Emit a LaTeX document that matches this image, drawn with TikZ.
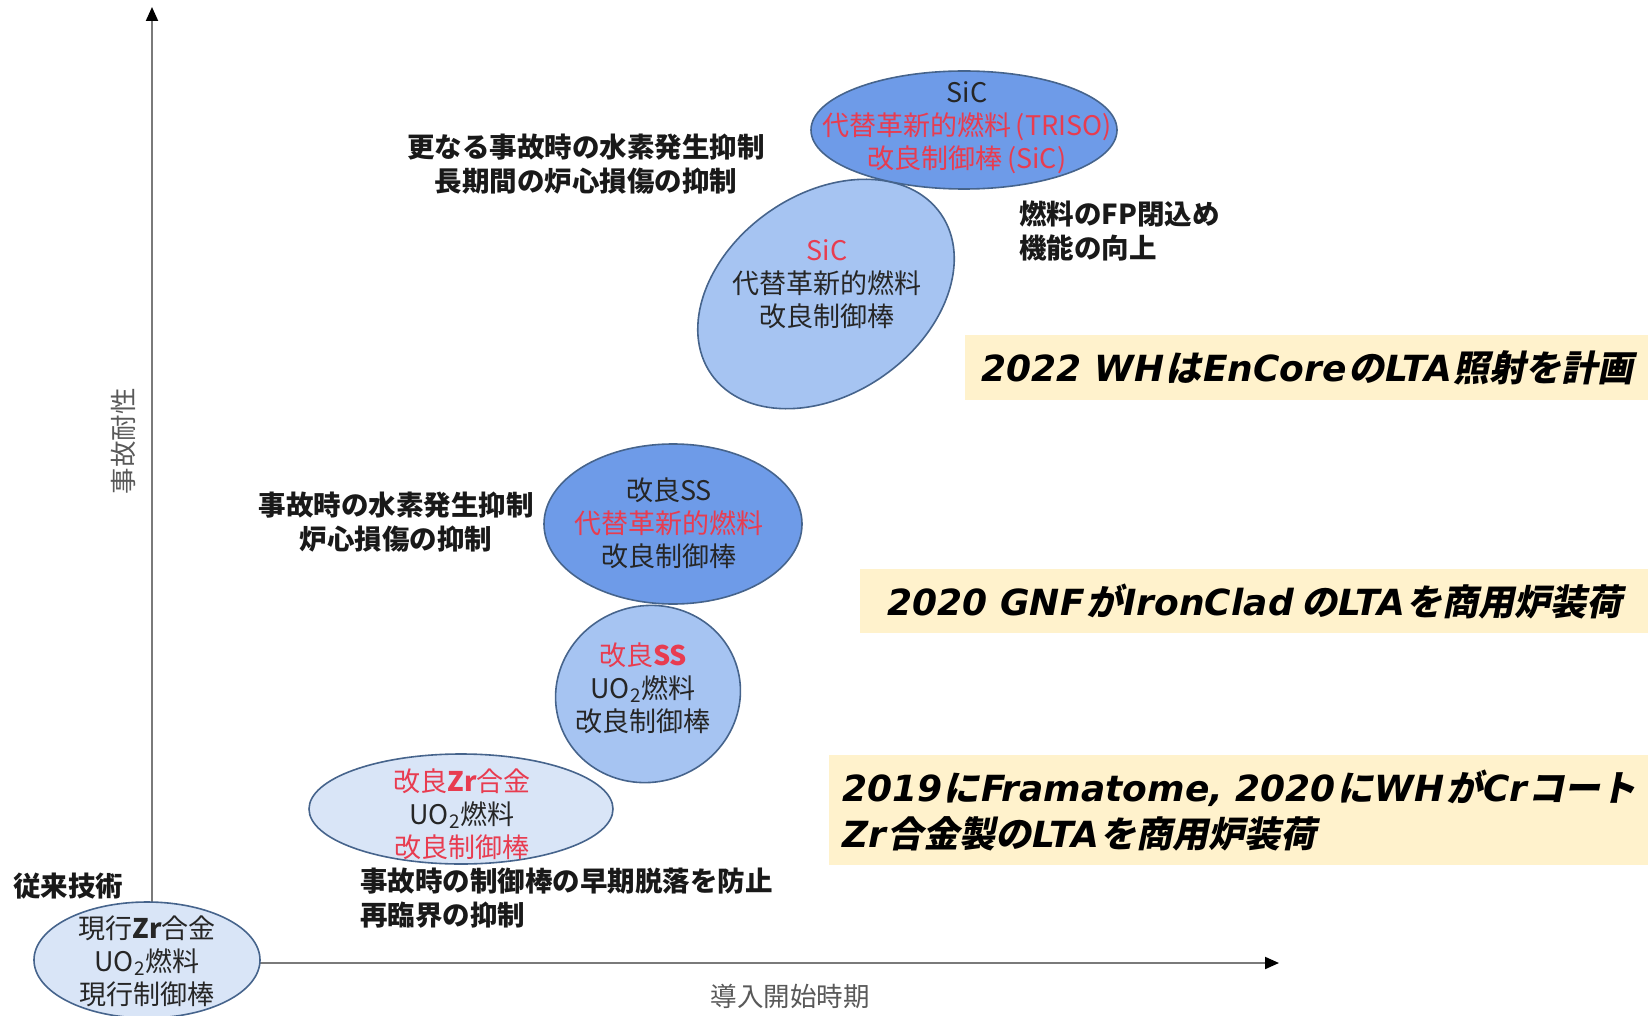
\documentclass[tikz,border=0pt]{standalone}
\usepackage{fontspec}
\setmainfont{Noto Sans CJK JP}
\newfontfamily\jpsl{Noto Sans CJK JP}[FakeSlant=0.2]
\newfontfamily\lat{DejaVu Sans}
\usetikzlibrary{shapes.geometric,arrows.meta}

\definecolor{elLight}{HTML}{D9E5F7}
\definecolor{elMid}{HTML}{A6C4F2}
\definecolor{elDark}{HTML}{6E9BE8}
\definecolor{elEdge}{HTML}{46648C}
\definecolor{redTxt}{HTML}{E83C50}
\definecolor{darkTxt}{HTML}{262626}
\definecolor{axisGrey}{HTML}{595959}
\definecolor{boxYellow}{HTML}{FFF2CC}

% Latin runs inside the slanted bold news boxes, with a hair of space
% so the slanted kana next to them do not collide
\newcommand\boxlat[1]{\kern0.7pt{\lat\bfseries\itshape #1}\kern0.7pt}

\begin{document}
\begin{tikzpicture}[x=0.5pt,y=-0.5pt,
  blob/.style={ellipse, draw=elEdge, line width=0.8pt, inner sep=0pt},
  eltext/.style={align=center, text=darkTxt, inner sep=0pt,
    font=\fontsize{13.5}{16.5}\selectfont},
  note/.style={text=black!90, inner sep=0pt,
    font=\bfseries\fontsize{13.75}{16.75}\selectfont},
  axislabel/.style={text=axisGrey, inner sep=0pt,
    font=\fontsize{13.25}{16}\selectfont},
  newsbox/.style={fill=boxYellow, inner sep=0pt, anchor=north west,
    text=black, font=\jpsl\bfseries\fontsize{18}{23}\selectfont},
  axis/.style={draw=axisGrey!80, line width=1pt,
    -{Triangle[length=7pt,width=6pt,black]}}
]
\useasboundingbox (0,0) rectangle (1648,1016);

% axes
\coordinate (O) at (152,963);
\coordinate (ytop) at (152,7);
\coordinate (xend) at (1279,963);
\draw[axis] (O) -- (ytop);
\draw[axis] (O) -- (xend);
\node[axislabel, rotate=90] (ylab) at (123,441) {事故耐性};
\node[axislabel] (xlab) at (790,996) {導入開始時期};

% technology ellipses
\node[blob, fill=elLight, minimum width=113pt, minimum height=58pt] (e1) at (147,960) {};
\node[blob, fill=elLight, minimum width=152pt, minimum height=55pt] (e2) at (461,809) {};
\node[blob, fill=elMid, rotate=20, minimum width=93pt, minimum height=88pt] (e3) at (648,694) {};
\node[blob, fill=elDark, minimum width=129pt, minimum height=80pt] (e4) at (673,524) {};
\node[blob, fill=elMid, rotate=35, minimum width=140pt, minimum height=100pt] (e5) at (826,294) {};
\node[blob, fill=elDark, minimum width=153pt, minimum height=59pt] (e6) at (964,130) {};

\node[eltext] (t1) at (147,961) {現行{\bfseries Zr}合金\\UO\textsubscript{2}燃料\\現行制御棒};
\node[eltext] (t2) at (462,814) {\textcolor{redTxt}{改良{\bfseries Zr}合金}\\UO\textsubscript{2}燃料\\\textcolor{redTxt}{改良制御棒}};
\node[eltext] (t3) at (643,688) {\textcolor{redTxt}{改良{\bfseries SS}}\\UO\textsubscript{2}燃料\\改良制御棒};
\node[eltext] (t4) at (669,523) {改良SS\\\textcolor{redTxt}{代替革新的燃料}\\改良制御棒};
\node[eltext] (t5) at (827,284) {\textcolor{redTxt}{SiC}\\代替革新的燃料\\改良制御棒};
\node[eltext] (t6) at (967,128) {SiC\\\textcolor{redTxt}{代替革新的燃料\,(TRISO)}\\\textcolor{redTxt}{改良制御棒\,(SiC)}};

% effect notes
\node[note, align=center] (n1) at (586,164) {更なる事故時の水素発生抑制\\長期間の炉心損傷の抑制};
\node[note, align=left, anchor=west] (n2) at (1019,231) {燃料のFP閉込め\\機能の向上};
\node[note, align=center] (n3) at (396,522) {事故時の水素発生抑制\\炉心損傷の抑制};
\node[note, align=left, anchor=west] (n4) at (360,898) {事故時の制御棒の早期脱落を防止\\再臨界の抑制};
\node[note, anchor=west] (n5) at (13,886) {従来技術};

% milestone boxes
\node[newsbox, minimum width=341.5pt, minimum height=32.5pt] (b1) at (965,335)
  {\boxlat{2022 WH}は\boxlat{EnCore}の\boxlat{LTA}照射を計画};
\node[newsbox, minimum width=394pt, minimum height=32pt] (b2) at (860,569)
  {\boxlat{2020 GNF}が\boxlat{IronClad}\kern3pt の\boxlat{LTA}を商用炉装荷};
\node[newsbox, align=left, minimum width=409.5pt, minimum height=55pt] (b3) at (829,755)
  {\boxlat{2019}に\boxlat{Framatome, 2020}に\boxlat{WH}が\boxlat{Cr}コート\\
   \boxlat{Zr}合金製の\boxlat{LTA}を商用炉装荷};
\end{tikzpicture}
\end{document}
